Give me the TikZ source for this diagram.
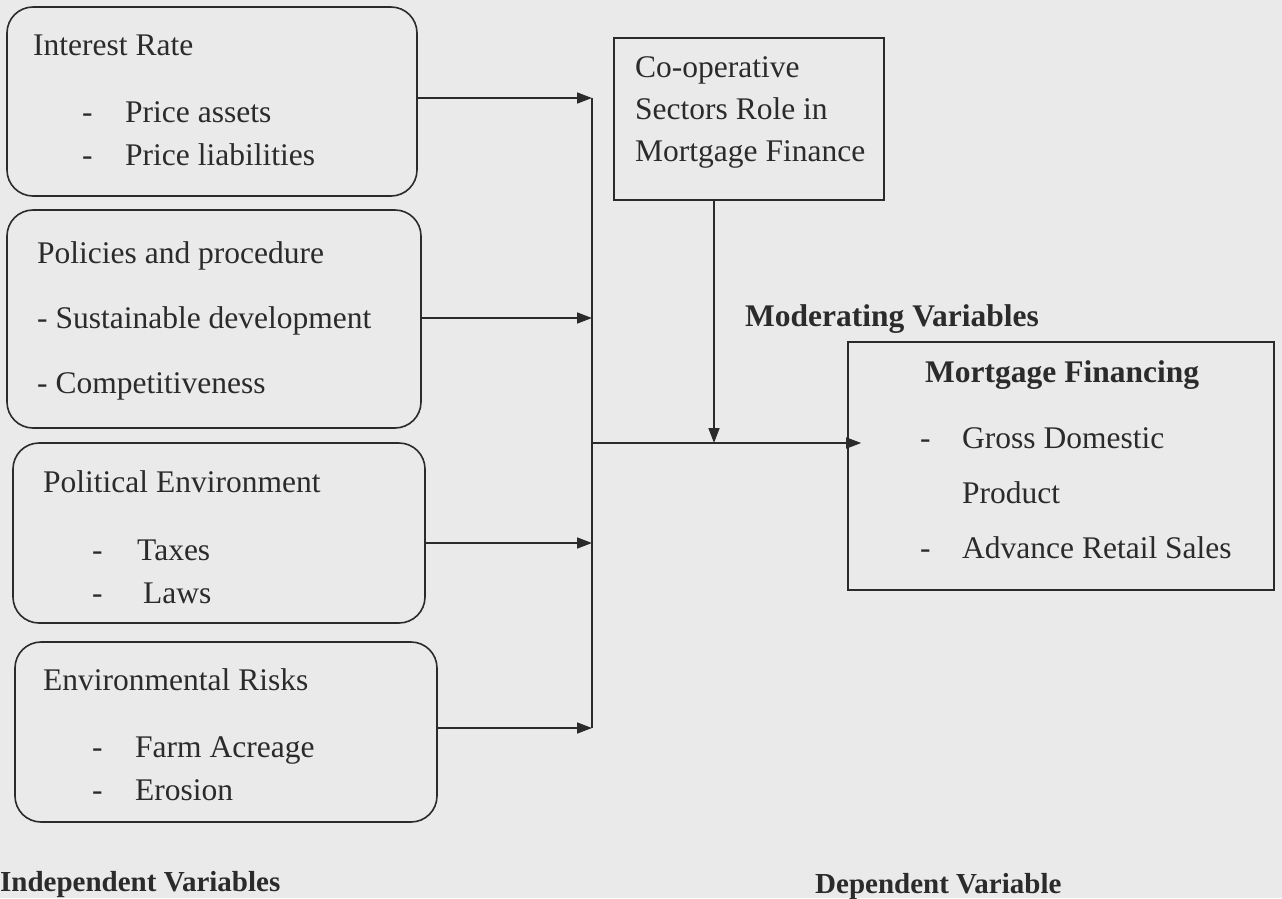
\documentclass[tikz,border=0pt]{standalone}
\usepackage{fontspec}
\setmainfont{Liberation Serif}
\usetikzlibrary{arrows.meta}
\definecolor{ink}{HTML}{2B2B2B}
\definecolor{paper}{HTML}{EAEAEA}
\begin{document}
\begin{tikzpicture}[x=1pt,y=-1pt,
  ibox/.style={draw=ink, line width=1.6pt, rounded corners=26pt, inner sep=0pt},
  sbox/.style={draw=ink, line width=1.6pt, inner sep=0pt},
  txt/.style={anchor=base west, inner sep=0pt, text=ink, font=\fontsize{31.5}{38}\selectfont},
  btxt/.style={anchor=base west, inner sep=0pt, text=ink, font=\fontsize{31.5}{38}\selectfont\bfseries},
  lab/.style={anchor=base west, inner sep=0pt, text=ink, font=\fontsize{29}{34}\selectfont\bfseries},
  conn/.style={draw=ink, line width=1.6pt},
  arr/.style={draw=ink, line width=1.6pt, -{Triangle[length=15pt,width=11pt]}}]
\fill[paper] (0,0) rectangle (1282,898);
\useasboundingbox (0,0) rectangle (1282,898);

% boxes
\node[ibox, minimum width=410pt, minimum height=189pt] (b1) at (212,101.5) {};
\node[ibox, minimum width=414pt, minimum height=218pt] (b2) at (214,319) {};
\node[ibox, minimum width=412pt, minimum height=180pt] (b3) at (219,533) {};
\node[ibox, minimum width=422pt, minimum height=180pt] (b4) at (226,732) {};
\node[sbox, minimum width=270pt, minimum height=162pt] (co) at (749,119) {};
\node[sbox, minimum width=426pt, minimum height=248pt] (mf) at (1061,466) {};

% texts box 1
\node[txt] (t1) at (33,55) {Interest Rate};
\node[txt] (d11) at (82,122) {-};
\node[txt] (t11) at (125,122) {Price assets};
\node[txt] (d12) at (82,165) {-};
\node[txt] (t12) at (125,165) {Price liabilities};
% box 2
\node[txt] (t2) at (37,263) {Policies and procedure};
\node[txt] (t21) at (37,328) {- Sustainable development};
\node[txt] (t22) at (37,393) {- Competitiveness};
% box 3
\node[txt] (t3) at (43,492) {Political Environment};
\node[txt] (d31) at (92,560) {-};
\node[txt] (t31) at (137,560) {Taxes};
\node[txt] (d32) at (92,603) {-};
\node[txt] (t32) at (143,603) {Laws};
% box 4
\node[txt] (t4) at (43,690) {Environmental Risks};
\node[txt] (d41) at (92,757) {-};
\node[txt] (t41) at (135,757) {Farm Acreage};
\node[txt] (d42) at (92,800) {-};
\node[txt] (t42) at (135,800) {Erosion};
% co-operative box
\node[txt] (c1) at (635,77) {Co-operative};
\node[txt] (c2) at (635,119) {Sectors Role in};
\node[txt] (c3) at (635,161) {Mortgage Finance};
% moderating
\node[btxt] (mod) at (745,326) {Moderating Variables};
% mortgage financing
\node[btxt] (m0) at (925,382) {Mortgage Financing};
\node[txt] (dm1) at (920,448) {-};
\node[txt] (m1) at (962,448) {Gross Domestic};
\node[txt] (m2) at (962,503) {Product};
\node[txt] (dm2) at (920,558) {-};
\node[txt] (m3) at (962,558) {Advance Retail Sales};
% bottom labels
\node[lab] (ind) at (0,891) {Independent Variables};
\node[lab] (dep) at (815,893) {Dependent Variable};

% connectors
\coordinate (j1) at (592,98);
\coordinate (j2) at (592,318);
\coordinate (jm) at (592,443);
\coordinate (j3) at (592,543);
\coordinate (j4) at (592,728);
\coordinate (jc) at (714,443);
\draw[arr] (b1.east |- j1) -- (j1);
\draw[arr] (b2.east |- j2) -- (j2);
\draw[arr] (b3.east |- j3) -- (j3);
\draw[arr] (b4.east |- j4) -- (j4);
\draw[conn] (j1) -- (j4);
\draw[arr] (co.south -| jc) -- (jc);
\draw[arr] (jm) -- ([xshift=14pt]mf.west |- jm);
\end{tikzpicture}
\end{document}
